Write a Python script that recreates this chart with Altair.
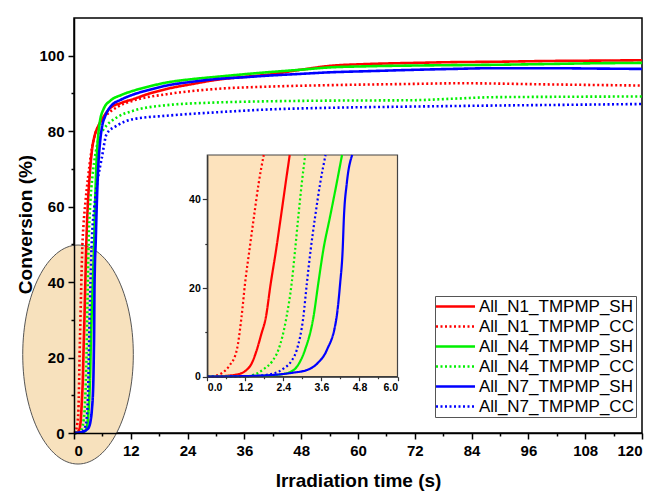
import altair as alt
import pandas as pd

# Photo-polymerisation kinetics: conversion vs irradiation time
SERIES = ["All_N1_TMPMP_SH", "All_N1_TMPMP_CC", "All_N4_TMPMP_SH",
          "All_N4_TMPMP_CC", "All_N7_TMPMP_SH", "All_N7_TMPMP_CC"]
COLORS = ["#ff0000", "#ff0000", "#00f000", "#00f000", "#0000ff", "#0000ff"]
DASHES = [[1, 0], [2, 2.5], [1, 0], [2, 2.5], [1, 0], [2, 2.5]]

N1_SH_T = [0, 0.6, 1.0, 1.2, 1.4, 1.56, 1.7, 1.85, 2.0, 2.17, 2.32, 2.47, 2.6,
           2.9, 3.3, 3.8, 4.4, 5.0, 6.0, 7.7, 10, 12.5, 16, 19.6, 25, 30, 36, 41,
           48, 54, 62, 72, 80, 89, 100, 110, 120]
N1_SH_C = [0, 0.2, 0.6, 1.3, 3, 6, 9.5, 13.5, 21, 28.6, 36, 43.6, 50,
           60, 68, 75, 79, 81, 83.3, 86.2, 87.5, 88.5, 90, 91.2, 92.5, 93.6, 94.4, 95,
           96.3, 97.3, 97.8, 98.1, 98.3, 98.4, 98.6, 98.7, 98.8]

N1_CC_T = [0, 0.3, 0.5, 0.7, 0.93, 1.08, 1.19, 1.33, 1.47, 1.62, 1.78, 2.0, 2.4,
           3.0, 3.6, 4.3, 5.2, 6.5, 9, 12.5, 19.6, 30, 40.7, 54, 70, 82, 100, 120]
N1_CC_C = [0, 0.3, 1, 2.5, 6, 13.5, 21, 28.6, 36, 43.6, 50, 55, 61,
           68, 74, 78.5, 81.5, 83.8, 86.3, 88.1, 89.8, 91.2, 91.8, 92.2, 92.5, 92.7, 92.4, 92.1]

N4_SH_T = [0, 1.0, 2.0, 2.3, 2.6, 2.85, 3.08, 3.35, 3.5, 3.66, 3.87, 4.08, 4.25,
           4.45, 4.7, 5.0, 5.4, 6.3, 7.7, 10, 12.5, 16, 19.6, 25, 30, 36, 40.7, 48, 54,
           62, 72, 80, 89, 100, 110, 120]
N4_SH_C = [0, 0.1, 0.3, 0.5, 1.0, 2.5, 6, 13.5, 21, 28.6, 36, 43.6, 50,
           60, 70, 77, 82, 86, 88.1, 89.6, 90.7, 91.9, 92.9, 93.8, 94.4, 95.1, 95.6, 96.3, 96.9,
           97.2, 97.4, 97.5, 97.6, 97.8, 98.0, 98.1]

N4_CC_T = [0, 1.2, 1.4, 1.56, 1.8, 2.05, 2.24, 2.5, 2.66, 2.77, 2.87, 2.98, 3.09,
           3.4, 3.9, 4.6, 5.3, 6.3, 9.1, 12.5, 19.6, 30, 40, 54, 71, 80, 88, 100, 120]
N4_CC_C = [0, 0.1, 0.3, 0.7, 1.8, 3.5, 6, 13.5, 21, 28.6, 36, 43.6, 50,
           60, 68, 74.5, 78.5, 80.6, 83.7, 85.4, 86.9, 87.6, 87.9, 88.1, 88.2, 88.6, 89.0, 89.1, 89.2]

N7_SH_T = [0, 1.0, 2.08, 2.7, 3.14, 3.5, 3.77, 4.08, 4.19, 4.27, 4.31, 4.4, 4.57,
           4.8, 5.1, 5.5, 5.9, 6.6, 7.7, 10, 12.5, 16, 19.6, 25, 30, 36, 40.7, 48, 54,
           62, 70, 80, 89, 100, 110, 120]
N7_SH_C = [0, 0.1, 0.4, 0.9, 1.5, 3.2, 6, 13.5, 21, 28.6, 36, 43.6, 50,
           60, 70, 77, 81, 84, 86.5, 88.4, 89.7, 91.0, 92.1, 93.1, 93.8, 94.3, 94.7, 95.2, 95.6,
           95.9, 96.2, 96.5, 96.7, 96.7, 96.6, 96.5]

N7_CC_T = [0, 1.5, 2.08, 2.4, 2.65, 2.82, 3.03, 3.14, 3.26, 3.4, 3.56, 3.73,
           4.3, 5.0, 5.9, 6.9, 9.1, 12.5, 19.6, 30, 40, 54, 70, 89, 105, 120]
N7_CC_C = [0, 0.2, 0.7, 1.8, 3.5, 6, 13.5, 21, 28.6, 36, 43.6, 50,
           60, 67, 73.1, 79.3, 81.5, 83.2, 84.1, 85, 85.7, 86.2, 86.5, 86.8, 87.0, 87.2]

CURVES = [(N1_SH_T, N1_SH_C), (N1_CC_T, N1_CC_C), (N4_SH_T, N4_SH_C),
          (N4_CC_T, N4_CC_C), (N7_SH_T, N7_SH_C), (N7_CC_T, N7_CC_C)]

rows = []
for name, (ts, cs) in zip(SERIES, CURVES):
    for i, (t, c) in enumerate(zip(ts, cs)):
        rows.append({"series": name, "t": t, "conv": c, "order": i})
df = pd.DataFrame(rows)

# highlighted early-time region (ellipse) and zoom window
ELLIPSE_T = [0.85]
ELLIPSE_C = [20.8]
ZOOM_T = [0, 6]
ZOOM_C = [0, 50]

FONT = "Liberation Sans"
W, H = 568, 415

color = alt.Color("series:N", scale=alt.Scale(domain=SERIES, range=COLORS),
                  legend=alt.Legend(title=None, symbolType="M-3.9,0L3.9,0"))
dash = alt.StrokeDash("series:N", scale=alt.Scale(domain=SERIES, range=DASHES),
                      legend=alt.Legend(title=None, symbolType="M-3.9,0L3.9,0"))

x_main = alt.X("t:Q", scale=alt.Scale(domain=[0, 120], nice=False, zero=False),
               axis=alt.Axis(values=list(range(0, 121, 6)),
                             labelExpr="datum.value % 12 === 0 ? datum.label : ''",
                             tickSize={"condition": {"test": "datum.value % 12 === 0", "value": 6}, "value": 3},
                             labelPadding=4, title="Irradiation time (s)",
                             titleY=53, titleBaseline="alphabetic", zindex=2))
y_main = alt.Y("conv:Q", scale=alt.Scale(domain=[0, 110], nice=False, zero=False),
               axis=alt.Axis(values=list(range(0, 101, 10)),
                             labelExpr="datum.value % 20 === 0 ? datum.label : ''",
                             tickSize={"condition": {"test": "datum.value % 20 === 0", "value": 6}, "value": 3},
                             labelPadding=4, title="Conversion (%)",
                             titleX=-43, titleY=206, titleBaseline="alphabetic", zindex=2))

ell_df = pd.DataFrame({"t": ELLIPSE_T, "conv": ELLIPSE_C})
ellipse = alt.Chart(ell_df).mark_point(
    shape="M-0.505,0A0.505,1 0 1,1 0.505,0A0.505,1 0 1,1 -0.505,0Z",
    size=219 * 219, filled=True, fill="#f7e1bd", fillOpacity=1,
    stroke="#555555", strokeWidth=1, opacity=1,
).encode(x=x_main, y=y_main)

main_lines = alt.Chart(df).mark_line(strokeWidth=2.6, interpolate="monotone").encode(
    x=x_main, y=y_main, color=color, strokeDash=dash, order="order:Q")

main = alt.layer(ellipse, main_lines)

# inset: zoom on the first 6 s
IX0, IX1 = 133.3, 323.5
IY0, IY1 = 358.7, 137.0
inset_ticks_x = [0, 0.6, 1.2, 1.8, 2.4, 3.0, 3.6, 4.2, 4.8, 5.4, 6.0]
x_in = alt.X("t:Q", scale=alt.Scale(domain=[0, 6], range=[IX0, IX1], nice=False, zero=False),
             axis=alt.Axis(orient="bottom", offset=-(H - IY0), values=inset_ticks_x,
                           labelExpr="round(datum.value * 10) % 12 === 0 ? format(datum.value, '.1f') : ''",
                           tickSize={"condition": {"test": "round(datum.value * 10) % 12 === 0", "value": 4}, "value": 2},
                           labelFontSize=10.5, labelPadding=2, title=None, zindex=2,
                           domainColor="#333333", tickColor="#333333", domainWidth=1.2, tickWidth=1.2))
y_in = alt.Y("conv:Q", scale=alt.Scale(domain=[0, 50], range=[IY0, IY1], nice=False, zero=False),
             axis=alt.Axis(orient="left", offset=-IX0, values=[0, 10, 20, 30, 40],
                           labelExpr="datum.value % 20 === 0 ? datum.label : ''",
                           tickSize={"condition": {"test": "datum.value % 20 === 0", "value": 5}, "value": 2.5},
                           labelFontSize=10.5, labelPadding=2, title=None, zindex=2,
                           domainColor="#333333", tickColor="#333333", domainWidth=1.2, tickWidth=1.2))

zoom_df = pd.DataFrame({"t": [ZOOM_T[0]], "t2": [ZOOM_T[1]], "conv": [ZOOM_C[0]], "conv2": [ZOOM_C[1]]})
inset_bg = alt.Chart(zoom_df).mark_rect(fill="#fde3bd", stroke="#444444", strokeWidth=1.2).encode(
    x=x_in, x2="t2:Q", y=y_in, y2="conv2:Q")
inset_lines = alt.Chart(df).mark_line(strokeWidth=2.2, interpolate="monotone").transform_filter(
    "datum.conv <= 50").encode(x=x_in, y=y_in, color=color, strokeDash=dash, order="order:Q")
inset = alt.layer(inset_bg, inset_lines)

chart = alt.layer(main, inset).resolve_scale(x="independent", y="independent").properties(
    width=W, height=H,
    autosize=alt.AutoSizeParams(type="none"),
    padding={"left": 74, "top": 18, "right": 14, "bottom": 59},
).configure_view(stroke="black", strokeWidth=1.5).configure_axis(
    labelFont=FONT, labelFontSize=15, labelFontWeight="bold", labelColor="black",
    titleFont=FONT, titleFontSize=19, titleFontWeight="bold", titleColor="black",
    domainColor="black", domainWidth=1.5, tickColor="black", tickWidth=1.5,
    grid=False, labelOverlap=False, labelBound=False,
).configure_legend(
    orient="none", legendX=361, legendY=278,
    labelFont=FONT, labelFontSize=17, labelColor="black",
    symbolSize=100, symbolStrokeWidth=2.5, symbolOffset=10, labelOffset=15,
    strokeColor="#555555", fillColor="white", padding=2, rowPadding=2,
)

chart.save("out.html", embed_options={"renderer": "svg", "actions": False})
